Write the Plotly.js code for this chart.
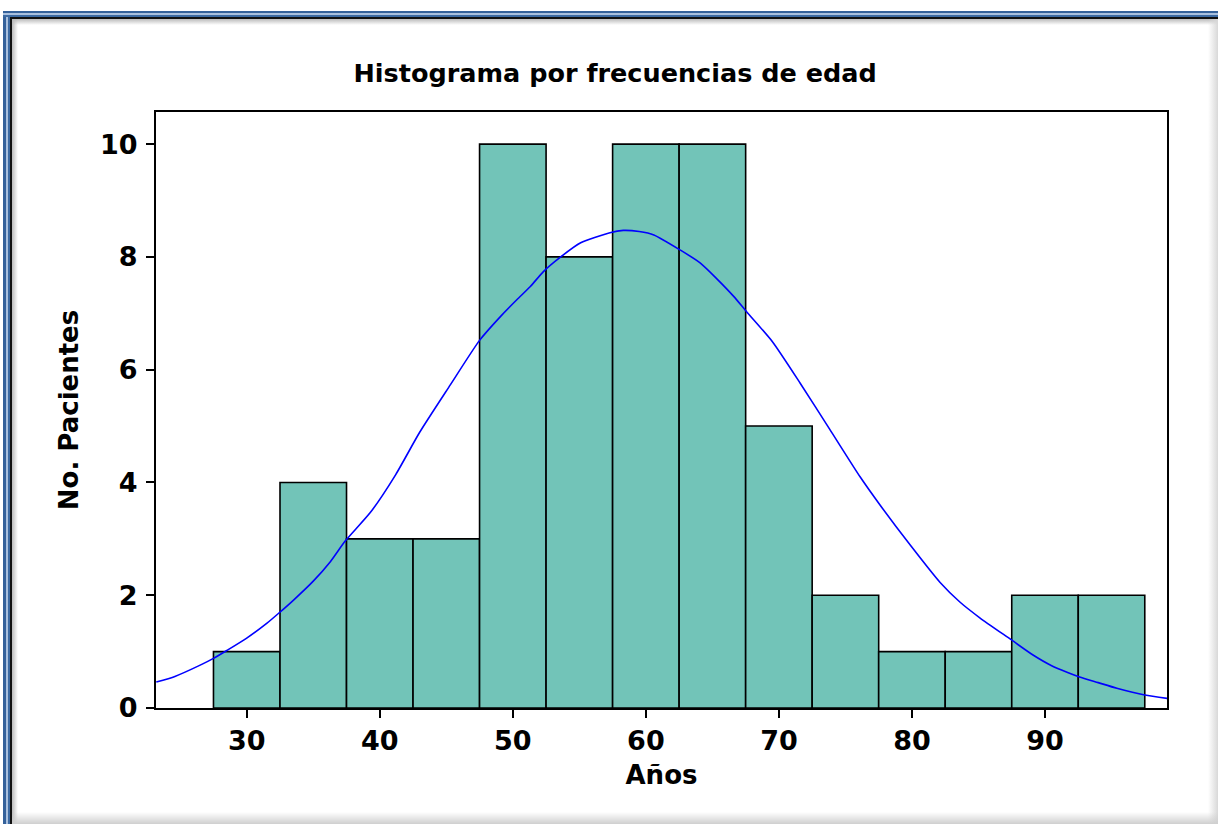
<!DOCTYPE html>
<html>
<head>
<meta charset="utf-8">
<script src="https://cdn.plot.ly/plotly-3.0.1.min.js"></script>
<style>
  html, body { margin: 0; padding: 0; background: #ffffff; }
  #wrap { position: relative; width: 1218px; height: 824px; overflow: hidden; }
  #chart { position: absolute; left: 0; top: 0; width: 1218px; height: 824px; }
  .fr { position: absolute; pointer-events: none; }
</style>
</head>
<body>
<div id="wrap">
  <div id="chart"></div>
  <div class="fr" style="left:3px;top:11px;width:8px;height:813px;background:linear-gradient(to right,#34619a 0,#34619a 3px,#a9c0de 3px,#a9c0de 5px,#3c6aa2 5px,#3c6aa2 8px);"></div>
  <div class="fr" style="left:3px;top:11px;width:1215px;height:6px;background:linear-gradient(to bottom,#34619a 0,#34619a 2px,#a9c0de 2px,#a9c0de 4px,#3c6aa2 4px,#3c6aa2 6px);"></div>
  <div class="fr" style="left:10px;top:17px;width:2px;height:807px;background:#111;"></div>
  <div class="fr" style="left:10px;top:17px;width:1208px;height:2px;background:#111;"></div>
  <div class="fr" style="left:12px;top:19px;width:6px;height:805px;background:linear-gradient(to right,#bbbbbb,rgba(255,255,255,0));"></div>
  <div class="fr" style="left:12px;top:19px;width:1206px;height:6px;background:linear-gradient(to bottom,#bbbbbb,rgba(255,255,255,0));"></div>
  <div class="fr" style="left:1208px;top:19px;width:10px;height:805px;background:linear-gradient(to right,rgba(255,255,255,0),#d8d8d8);"></div>
  <div class="fr" style="left:12px;top:812px;width:1206px;height:12px;background:linear-gradient(to bottom,rgba(255,255,255,0),#cfcfcf);"></div>
</div>
<script>
// Histogram bins (centers, width 5) and counts
const binCenters = [30, 35, 40, 45, 50, 55, 60, 65, 70, 75, 80, 85, 90, 95];
const counts     = [1, 4, 3, 3, 10, 8, 10, 10, 5, 2, 1, 1, 2, 2];

// Fitted curve, points
const curveAge = [23.2, 24.6, 26.5, 27.5, 28.5, 30.0, 31.5, 32.4, 33.5, 35.0, 36.3, 37.4, 39.3, 41.2, 43.0, 45.3, 47.5, 49.1, 50.3, 51.3, 52.3, 53.6, 55.1, 57.3, 58.3, 59.5, 60.6, 62.6, 64.1, 65.3, 66.6, 67.6, 69.5, 71.6, 73.8, 76.1, 77.6, 79.9, 82.1, 83.6, 85.1, 87.4, 89.1, 90.5, 91.7, 92.6, 94.0, 95.4, 97.5, 99.2];
const curveVal = [0.46, 0.56, 0.76, 0.88, 1.02, 1.24, 1.50, 1.68, 1.91, 2.25, 2.60, 2.96, 3.47, 4.14, 4.89, 5.73, 6.52, 6.95, 7.24, 7.47, 7.74, 8.00, 8.25, 8.43, 8.47, 8.45, 8.39, 8.12, 7.89, 7.62, 7.30, 7.02, 6.50, 5.76, 4.95, 4.10, 3.60, 2.88, 2.23, 1.88, 1.60, 1.22, 0.94, 0.75, 0.63, 0.55, 0.45, 0.35, 0.23, 0.17];

const xTicks = [30, 40, 50, 60, 70, 80, 90];
const yTicks = [0, 2, 4, 6, 8, 10];

const FONT = "'DejaVu Sans', Verdana, sans-serif";

const traces = [
  {
    type: 'bar',
    x: binCenters,
    y: counts,
    width: 5,
    marker: { color: '#72c4b8', line: { color: '#000000', width: 1.6 } },
    hoverinfo: 'x+y'
  },
  {
    type: 'scatter',
    mode: 'lines',
    x: curveAge,
    y: curveVal,
    line: { color: '#0000ff', width: 1.6, shape: 'spline', smoothing: 0.6 },
    hoverinfo: 'skip'
  }
];

const layout = {
  width: 1218,
  height: 824,
  paper_bgcolor: '#ffffff',
  plot_bgcolor: '#ffffff',
  showlegend: false,
  bargap: 0,
  margin: { l: 156, r: 51, t: 112, b: 116, pad: 0 },
  font: { family: FONT, color: '#000000' },
  title: {
    text: 'Histograma por frecuencias de edad',
    font: { family: FONT, size: 25.5, weight: 'bold', color: '#000' },
    x: 0.505, xref: 'container', xanchor: 'center',
    y: 0.911, yref: 'container', yanchor: 'middle'
  },
  xaxis: {
    range: [23.18, 99.17],
    tickvals: xTicks,
    ticktext: xTicks.map(String),
    ticks: 'outside', ticklen: 8, tickwidth: 2, tickcolor: '#000',
    tickfont: { family: FONT, size: 27, weight: 'bold', color: '#000' },
    showline: true, linecolor: '#000', linewidth: 2, mirror: true,
    showgrid: false, zeroline: false,
    title: { text: 'Años', font: { family: FONT, size: 26, weight: 'bold', color: '#000' }, standoff: 10 }
  },
  yaxis: {
    range: [0, 10.57],
    tickvals: yTicks,
    ticktext: yTicks.map(String),
    ticks: 'outside', ticklen: 8, tickwidth: 2, tickcolor: '#000',
    ticklabelstandoff: 3,
    tickfont: { family: FONT, size: 27, weight: 'bold', color: '#000' },
    showline: true, linecolor: '#000', linewidth: 2, mirror: true,
    showgrid: false, zeroline: false,
    title: { text: 'No. Pacientes', font: { family: FONT, size: 26, weight: 'bold', color: '#000' }, standoff: 14 }
  }
};

Plotly.newPlot('chart', traces, layout, { displayModeBar: false, staticPlot: true });
</script>
</body>
</html>
